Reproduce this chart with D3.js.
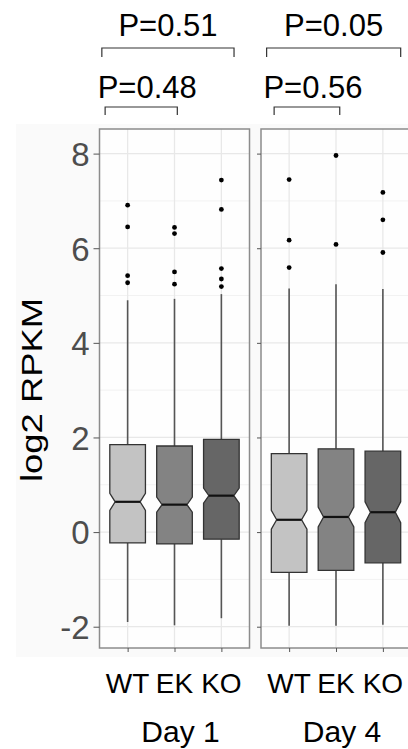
<!DOCTYPE html>
<html>
<head>
<meta charset="utf-8">
<title>log2 RPKM boxplots</title>
<script src="https://cdn.jsdelivr.net/npm/d3@7"></script>
<style>
  body { margin: 0; background: #fff; }
  svg text { font-family: "Liberation Sans", Arial, sans-serif; }
</style>
</head>
<body>
<svg id="chart" width="408" height="749"></svg>
<script>
// data
var days = ["Day 1", "Day 4"];
var genotypes = ["WT", "EK", "KO"];
var fills = ["#c3c3c3", "#838383", "#666666"];

var whiskLo = [[-1.90, -1.97, -1.82], [-1.98, -1.98, -1.96]];
var q1      = [[-0.23, -0.25, -0.15], [-0.85, -0.81, -0.65]];
var median  = [[0.64, 0.58, 0.77],    [0.26, 0.32, 0.42]];
var q3      = [[1.85, 1.82, 1.96],    [1.66, 1.76, 1.71]];
var whiskHi = [[4.90, 4.93, 5.03],    [5.15, 5.24, 5.14]];
var notchHalf = [[0.18, 0.16, 0.16],  [0.20, 0.21, 0.22]];
var outliers = [
  [[6.91, 6.45, 5.42, 5.27], [6.44, 6.31, 5.50, 5.24], [7.44, 6.82, 5.57, 5.35, 5.19]],
  [[7.45, 6.17, 5.59], [7.96, 6.08], [7.18, 6.60, 5.91]]
];
var yTicks = [-2, 0, 2, 4, 6, 8];
var yMinor = [-1, 1, 3, 5, 7];

// comparison brackets: panel, level, span in category units (1 = WT .. 3 = KO)
var pLabels  = ["P=0.51", "P=0.48", "P=0.05", "P=0.56"];
var pPanel   = [0, 0, 1, 1];
var pLevel   = [0, 1, 0, 1];
var pFrom    = [0.45, 0.52, 0.52, 0.68];
var pTo      = [3.27, 2.06, 3.38, 2.08];

// layout
var panelW = 150, panelTop = 129, panelBottom = 648;
var panelLeft = [99.5, 261];
var bracketY = [48, 107], bracketDrop = [9, 8];

var svg = d3.select("#chart");

svg.append("rect").attr("x", 16).attr("y", 124).attr("width", 392).attr("height", 533)
  .attr("fill", "#fafafa");

var y = d3.scaleLinear().domain([-2.45, 8.52]).range([panelBottom, panelTop]);

days.forEach(function(day, p) {
  var x = d3.scalePoint().domain(genotypes)
    .range([panelLeft[p], panelLeft[p] + panelW]).padding(0.6);
  var step = x.step();
  // continuous x for bracket ends
  var xc = d3.scaleLinear().domain([0.4, 3.6]).range([panelLeft[p], panelLeft[p] + panelW]);

  var g = svg.append("g");
  g.append("rect").attr("x", panelLeft[p]).attr("y", panelTop)
    .attr("width", panelW).attr("height", panelBottom - panelTop).attr("fill", "#fefefe");

  g.selectAll(".minor").data(yMinor).enter().append("line")
    .attr("x1", panelLeft[p]).attr("x2", panelLeft[p] + panelW)
    .attr("y1", d => y(d)).attr("y2", d => y(d))
    .attr("stroke", "#f2f2f2").attr("stroke-width", 1);
  g.selectAll(".major").data(yTicks).enter().append("line")
    .attr("x1", panelLeft[p]).attr("x2", panelLeft[p] + panelW)
    .attr("y1", d => y(d)).attr("y2", d => y(d))
    .attr("stroke", "#e8e8e8").attr("stroke-width", 1.3);
  g.selectAll(".vgrid").data(genotypes).enter().append("line")
    .attr("x1", d => x(d)).attr("x2", d => x(d))
    .attr("y1", panelTop).attr("y2", panelBottom)
    .attr("stroke", "#e8e8e8").attr("stroke-width", 1.3);

  genotypes.forEach(function(gt, i) {
    var cx = x(gt), hw = step * 0.38, nw = hw * 0.7;
    // whiskers
    g.append("line").attr("x1", cx).attr("x2", cx)
      .attr("y1", y(whiskHi[p][i])).attr("y2", y(q3[p][i]))
      .attr("stroke", "#555").attr("stroke-width", 1.6);
    g.append("line").attr("x1", cx).attr("x2", cx)
      .attr("y1", y(q1[p][i])).attr("y2", y(whiskLo[p][i]))
      .attr("stroke", "#555").attr("stroke-width", 1.6);
    // notched box
    var m = median[p][i], nh = notchHalf[p][i];
    var pts = [
      [cx - hw, y(q3[p][i])], [cx + hw, y(q3[p][i])],
      [cx + hw, y(m + nh)], [cx + nw, y(m)], [cx + hw, y(m - nh)],
      [cx + hw, y(q1[p][i])], [cx - hw, y(q1[p][i])],
      [cx - hw, y(m - nh)], [cx - nw, y(m)], [cx - hw, y(m + nh)]
    ];
    g.append("path").attr("d", d3.line()(pts) + "Z")
      .attr("fill", fills[i]).attr("stroke", "#333").attr("stroke-width", 1.3);
    g.append("line").attr("x1", cx - nw).attr("x2", cx + nw)
      .attr("y1", y(m)).attr("y2", y(m))
      .attr("stroke", "#111").attr("stroke-width", 2.2);
    g.selectAll(null).data(outliers[p][i]).enter().append("circle")
      .attr("cx", cx).attr("cy", d => y(d)).attr("r", 2.4).attr("fill", "#000");
  });

  g.append("rect").attr("x", panelLeft[p]).attr("y", panelTop)
    .attr("width", panelW).attr("height", panelBottom - panelTop)
    .attr("fill", "none").attr("stroke", "#8c8c8c").attr("stroke-width", 1.5);

  // axis ticks (labels only on the first panel)
  var yAxis = d3.axisLeft(y).tickValues(yTicks).tickSize(p === 0 ? 6 : 4);
  var ya = svg.append("g").attr("transform", "translate(" + panelLeft[p] + ",0)").call(yAxis);
  ya.select(".domain").remove();
  ya.selectAll("line").attr("stroke", "#555");
  if (p === 0) {
    ya.selectAll("text").attr("font-size", 33).attr("fill", "#4d4d4d").attr("dx", "-1")
      .attr("dy", "0.36em").text(d => d < 0 ? "-" + Math.abs(d) : d);
  } else {
    ya.selectAll("text").remove();
  }

  var xAxis = d3.axisBottom(x).tickSize(4).tickFormat("");
  var xa = svg.append("g").attr("transform", "translate(0," + panelBottom + ")").call(xAxis);
  xa.select(".domain").remove();
  xa.selectAll("line").attr("stroke", "#555");

  svg.selectAll(null).data(genotypes).enter().append("text")
    .attr("x", d => x(d)).attr("y", 693).attr("text-anchor", "middle")
    .attr("font-size", 28).attr("fill", "#000").text(d => d);

  svg.append("text").attr("x", panelLeft[p] + panelW / 2 + 6).attr("y", 742)
    .attr("text-anchor", "middle").attr("font-size", 30).attr("fill", "#000").text(day);

  // brackets
  pLabels.forEach(function(lab, k) {
    if (pPanel[k] !== p) return;
    var by = bracketY[pLevel[k]], dr = bracketDrop[pLevel[k]];
    var x1 = xc(pFrom[k]), x2 = xc(pTo[k]);
    svg.append("path")
      .attr("d", d3.line()([[x1, by + dr], [x1, by], [x2, by], [x2, by + dr]]))
      .attr("fill", "none").attr("stroke", "#333").attr("stroke-width", 1.2);
    svg.append("text").attr("x", (x1 + x2) / 2 + (pLevel[k] === 1 ? 6 : 0))
      .attr("y", by - (pLevel[k] === 0 ? 12.5 : 9.5))
      .attr("text-anchor", "middle").attr("font-size", 31).attr("fill", "#000").text(lab);
  });
});

svg.append("text").attr("transform", "translate(42,390) rotate(-90)")
  .attr("text-anchor", "middle").attr("font-size", 29).attr("fill", "#000")
  .attr("textLength", 184).attr("lengthAdjust", "spacingAndGlyphs")
  .text("log2 RPKM");
</script>
</body>
</html>
